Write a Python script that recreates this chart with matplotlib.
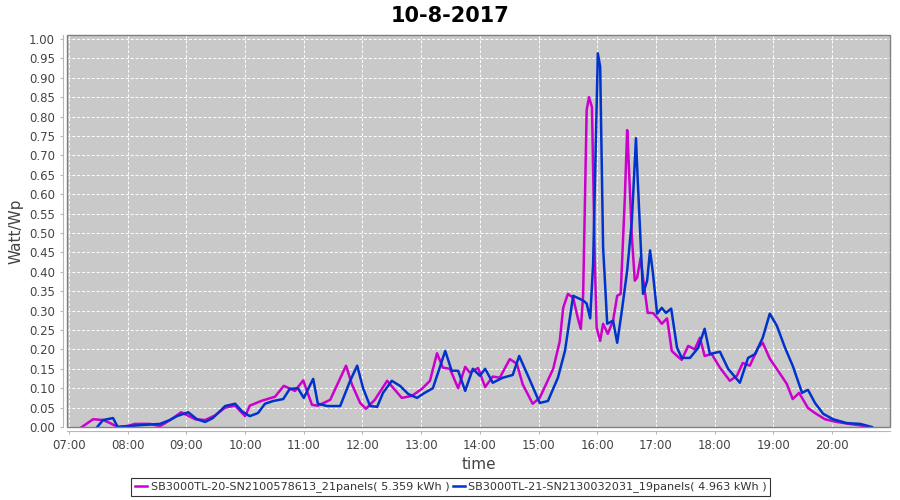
import matplotlib
matplotlib.use('Agg')
import matplotlib.pyplot as plt
from matplotlib.patches import Rectangle

# tijd in uren (decimaal), waarde in Watt/Wp
uren_sb20 = [7.22, 7.41, 7.58, 7.70, 7.83, 8.01, 8.12, 8.38, 8.55, 8.64, 8.81, 8.91,
             9.15, 9.32, 9.49, 9.66, 9.83, 10.00, 10.08, 10.29, 10.51, 10.66, 10.85,
             10.99, 11.14, 11.24, 11.45, 11.72, 11.82, 11.96, 12.06, 12.21, 12.42,
             12.67, 12.84, 13.01, 13.15, 13.27, 13.37, 13.49, 13.63, 13.75, 13.83,
             13.97, 14.09, 14.22, 14.34, 14.51, 14.63, 14.73, 14.90, 15.02, 15.25,
             15.36, 15.42, 15.50, 15.59, 15.67, 15.72, 15.76, 15.82, 15.86, 15.91,
             15.96, 15.99, 16.05, 16.10, 16.18, 16.27, 16.34, 16.40, 16.47, 16.51,
             16.52, 16.59, 16.64, 16.68, 16.74, 16.78, 16.86, 16.95, 17.03, 17.10,
             17.19, 17.27, 17.36, 17.44, 17.55, 17.66, 17.75, 17.83, 17.95, 18.09,
             18.26, 18.38, 18.48, 18.60, 18.74, 18.82, 18.94, 19.08, 19.23, 19.33,
             19.44, 19.59, 19.71, 19.88, 20.08, 20.30, 20.53, 20.59]
waarden_sb20 = [0.0, 0.02, 0.018, 0.01, 0.0, 0.003, 0.008, 0.008, 0.002, 0.01, 0.027, 0.038,
                0.02, 0.018, 0.03, 0.05, 0.055, 0.028, 0.055, 0.068, 0.078, 0.106, 0.093,
                0.12, 0.057, 0.055, 0.07, 0.158, 0.11, 0.062, 0.047, 0.07, 0.119,
                0.075, 0.08, 0.098, 0.119, 0.19, 0.153, 0.15, 0.10, 0.155, 0.14,
                0.152, 0.103, 0.13, 0.127, 0.175, 0.163, 0.11, 0.06, 0.075, 0.15,
                0.22, 0.307, 0.343, 0.333, 0.28, 0.253, 0.34, 0.817, 0.85, 0.824,
                0.42, 0.256, 0.222, 0.266, 0.24, 0.274, 0.338, 0.343, 0.59, 0.765,
                0.74, 0.49, 0.377, 0.385, 0.437, 0.385, 0.294, 0.294, 0.28, 0.266,
                0.28, 0.196, 0.183, 0.173, 0.209, 0.20, 0.23, 0.183, 0.188, 0.153,
                0.119, 0.132, 0.165, 0.158, 0.204, 0.217, 0.176, 0.145, 0.111, 0.072,
                0.088, 0.049, 0.036, 0.02, 0.013, 0.008, 0.003, 0.0]

uren_sb21 = [7.48, 7.58, 7.65, 7.75, 7.83, 8.24, 8.55, 8.72, 8.84, 9.03, 9.18, 9.32,
             9.45, 9.66, 9.83, 9.95, 10.08, 10.22, 10.34, 10.48, 10.65, 10.76, 10.90,
             11.00, 11.16, 11.24, 11.40, 11.62, 11.79, 11.91, 12.01, 12.13, 12.25,
             12.35, 12.50, 12.64, 12.78, 12.93, 13.06, 13.20, 13.41, 13.52, 13.63,
             13.75, 13.88, 14.00, 14.09, 14.22, 14.39, 14.56, 14.67, 14.82, 15.02,
             15.16, 15.33, 15.45, 15.59, 15.76, 15.82, 15.88, 15.93, 16.01, 16.05,
             16.10, 16.17, 16.27, 16.34, 16.42, 16.51, 16.59, 16.66, 16.69, 16.78,
             16.85, 16.90, 16.95, 17.02, 17.10, 17.17, 17.26, 17.36, 17.44, 17.58,
             17.72, 17.83, 17.92, 18.09, 18.23, 18.43, 18.57, 18.69, 18.82, 18.94,
             19.06, 19.20, 19.33, 19.49, 19.59, 19.71, 19.85, 20.02, 20.25, 20.48, 20.68]
waarden_sb21 = [0.0, 0.018, 0.02, 0.023, 0.0, 0.005, 0.008, 0.018, 0.028, 0.038, 0.02, 0.013,
                0.023, 0.054, 0.06, 0.04, 0.028, 0.036, 0.06, 0.067, 0.072, 0.098, 0.10,
                0.075, 0.124, 0.06, 0.054, 0.054, 0.119, 0.158, 0.10, 0.054, 0.052,
                0.088, 0.119, 0.106, 0.085, 0.075, 0.088, 0.10, 0.196, 0.145, 0.145,
                0.093, 0.15, 0.132, 0.15, 0.114, 0.127, 0.134, 0.183, 0.132, 0.062,
                0.067, 0.127, 0.196, 0.338, 0.326, 0.318, 0.28, 0.42, 0.963, 0.928,
                0.463, 0.266, 0.274, 0.217, 0.30, 0.403, 0.532, 0.744, 0.636, 0.343,
                0.377, 0.455, 0.395, 0.292, 0.307, 0.294, 0.305, 0.204, 0.178, 0.178,
                0.204, 0.253, 0.188, 0.194, 0.15, 0.114, 0.178, 0.188, 0.23, 0.292,
                0.261, 0.204, 0.158, 0.088, 0.096, 0.062, 0.034, 0.02, 0.01, 0.008, 0.0]

naam_sb20 = 'SB3000TL-20-SN2100578613_21panels( 5.359 kWh )'
naam_sb21 = 'SB3000TL-21-SN2130032031_19panels( 4.963 kWh )'

tick_uren = list(range(7, 21))
tick_labels = ['%02d:00' % u for u in tick_uren]
y_ticks = [i * 0.05 for i in range(21)]

fig = plt.figure(figsize=(9, 5), dpi=100)
ax = fig.add_axes([0.0744, 0.146, 0.9146, 0.784])
ax.set_facecolor('#C9C9C9')

ax.plot(uren_sb20, waarden_sb20, color='#CC00CC', linewidth=1.8,
        solid_joinstyle='round', label=naam_sb20)
ax.plot(uren_sb21, waarden_sb21, color='#0033CC', linewidth=1.8,
        solid_joinstyle='round', label=naam_sb21)

ax.set_xlim(6.965, 20.99)
ax.set_ylim(0, 1.01)
ax.set_xticks(tick_uren)
ax.set_xticklabels(tick_labels)
ax.set_yticks(y_ticks)
ax.set_yticklabels(['%.2f' % v for v in y_ticks])
ax.grid(True, color='white', linestyle=(0, (3, 2)), linewidth=0.7)
ax.set_axisbelow(True)

for kant in ['left', 'bottom']:
    ax.spines[kant].set_position(('outward', 3))
    ax.spines[kant].set_color('#B8B8B8')
for kant in ['top', 'right']:
    ax.spines[kant].set_visible(False)
ax.add_patch(Rectangle((0, 0), 1, 1, transform=ax.transAxes, fill=False,
                       edgecolor='#808080', linewidth=1.0, clip_on=False, zorder=5))

ax.tick_params(axis='both', labelsize=8.5, labelcolor='#444444', color='#B8B8B8',
               length=2, width=0.8)
ax.set_xlabel('time', fontsize=11, color='#444444', labelpad=4)
ax.set_ylabel('Watt/Wp', fontsize=11, color='#444444', labelpad=4)
fig.suptitle('10-8-2017', fontsize=15, fontweight='bold', y=0.987)

leg = fig.legend(loc='center', bbox_to_anchor=(0.501, 0.026), ncol=2, fontsize=8.1,
                 frameon=True, fancybox=False, edgecolor='black', handlelength=1.1,
                 handletextpad=0.3, columnspacing=0.3, borderpad=0.3)
leg.get_frame().set_linewidth(0.8)
for t in leg.get_texts():
    t.set_color('#333333')

fig.savefig('out.png', dpi=100)
